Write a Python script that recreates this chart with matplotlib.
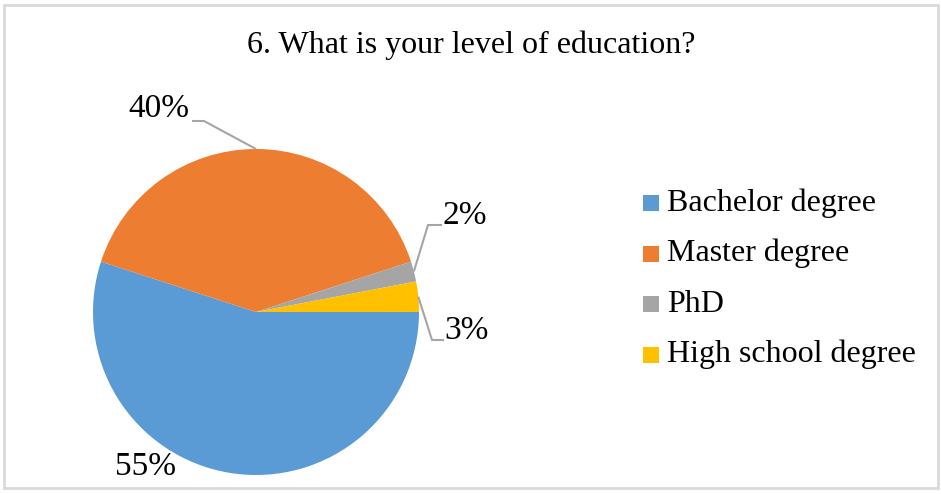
import numpy as np
import matplotlib.pyplot as plt
from matplotlib.patches import Rectangle

plt.rcParams['font.family'] = ['Liberation Serif', 'DejaVu Serif']

# Survey data
categories = ["Bachelor degree", "Master degree", "PhD", "High school degree"]
shares = [55, 40, 2, 3]
colors = ["#5B9BD5", "#ED7D31", "#A5A5A5", "#FFC000"]

W, H = 941, 494
fig = plt.figure(figsize=(W / 100, H / 100), dpi=100)
ax = fig.add_axes([0, 0, 1, 1])


def Y(y):
    """Convert a top-down pixel row to the axes' bottom-up coordinate."""
    return H - y


cx, cy, r = 256, Y(312), 163
wedges, _ = ax.pie(shares, colors=colors, startangle=0, counterclock=False,
                   center=(cx, cy), radius=r, frame=True,
                   wedgeprops=dict(linewidth=0))
ax.set_xlim(0, W)
ax.set_ylim(0, H)
ax.set_aspect('equal')
ax.axis('off')

# chart frame
ax.add_patch(Rectangle((4, Y(488)), 934, 483, fill=False,
                       edgecolor="#D9D9D9", linewidth=2))

ax.text(471, Y(45), "6. What is your level of education?", fontsize=23,
        ha='center', va='center', color='#000000')

# wedge mid-angles (degrees, counterclockwise from 3 o'clock)
edges = -np.cumsum([0] + shares) / sum(shares) * 360
mids = (edges[:-1] + edges[1:]) / 2


def edge_pt(i):
    a = np.deg2rad(mids[i])
    return cx + r * np.cos(a), cy + r * np.sin(a)


lc = "#A5A5A5"
lw = 1.5
fs_lab = 24

# Bachelor label (no leader)
ax.text(146, Y(467), f"{shares[0]}%", fontsize=fs_lab, ha='center', va='center')

# Master label with leader
ex, ey = edge_pt(1)
ax.plot([192, 204, ex], [Y(121), Y(121), ey], color=lc, lw=lw, solid_capstyle='butt')
ax.text(159, Y(109), f"{shares[1]}%", fontsize=fs_lab, ha='center', va='center')

# PhD label with leader
ex, ey = edge_pt(2)
ax.plot([442, 428, ex], [Y(225), Y(225), ey], color=lc, lw=lw, solid_capstyle='butt')
ax.text(465, Y(216), f"{shares[2]}%", fontsize=fs_lab, ha='center', va='center')

# High school label with leader
ex, ey = edge_pt(3)
ax.plot([ex, 432, 444], [ey, Y(340), Y(340)], color=lc, lw=lw, solid_capstyle='butt')
ax.text(467, Y(331), f"{shares[3]}%", fontsize=fs_lab, ha='center', va='center')

# legend
for i, (cat, col) in enumerate(zip(categories, colors)):
    yc = 203 + i * 50.5
    ax.add_patch(Rectangle((643, Y(yc) - 8), 16, 16, facecolor=col, edgecolor='none'))
    ax.text(667, Y(yc), cat, fontsize=23, ha='left', va='center')

fig.savefig("out.png", dpi=100)
